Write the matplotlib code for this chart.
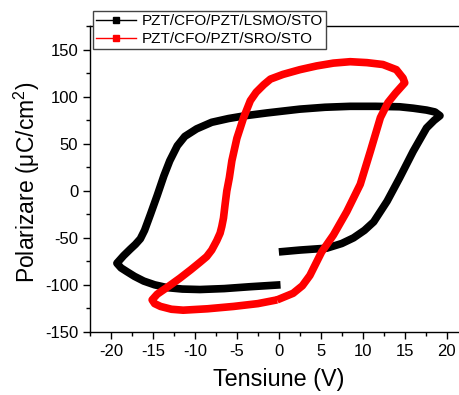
import matplotlib
matplotlib.use("Agg")
import matplotlib.pyplot as plt
from matplotlib.lines import Line2D
from matplotlib.ticker import MultipleLocator

plt.rcParams['font.family'] = ['Liberation Sans', 'DejaVu Sans']
plt.rcParams['mathtext.fontset'] = 'custom'
plt.rcParams['mathtext.rm'] = 'Liberation Sans'
plt.rcParams['axes.unicode_minus'] = False

# --- data ---
lsmo_label = 'PZT/CFO/PZT/LSMO/STO'
lsmo_v = [0.0, 2.5, 5.7, 7.5, 8.9, 10.2, 11.3, 12.9, 14.4, 16.0, 17.6,
          18.5, 19.2, 18.6, 17.6, 16.0, 14.4, 11.5, 8.5, 5.5, 2.5, -1.4,
          -4.0, -6.0, -8.0, -9.8, -11.2, -12.1, -13.0, -13.7, -14.5, -15.3,
          -16.0, -16.5, -17.1, -17.7, -18.5, -19.3, -18.8, -18.1, -17.2,
          -16.1, -14.8, -13.3, -11.5, -9.4, -6.5, -3.4, 0.2]
lsmo_p = [-65, -63, -61, -56, -50, -42, -33, -11, 14, 42, 67,
          75, 80, 84, 86, 88, 89.5, 90, 90, 89, 87, 83,
          80, 77, 73, 66, 58, 48, 32, 16, -5, -25,
          -42, -51, -57, -62, -69, -77, -82, -86, -91,
          -96, -100, -103, -104.5, -105, -104, -102, -100]

sro_label = 'PZT/CFO/PZT/SRO/STO'
sro_v = [-0.2, 1.7, 2.8, 3.7, 5.1, 6.5, 8.1, 9.7, 10.9, 12.1, 13.0,
         13.9, 14.6, 15.0, 14.8, 14.0, 12.4, 10.5, 8.5, 6.5, 4.5, 2.5,
         0.5, -1.0, -1.8, -2.7, -3.4, -4.2, -5.0, -5.6, -5.9, -6.2, -6.4,
         -6.6, -6.8, -7.0, -7.4, -8.0, -8.6, -9.4, -10.5, -11.8, -13.2,
         -14.5, -15.1, -14.8, -14.1, -12.8, -11.4, -8.5, -5.4, -2.5, -0.2]
sro_p = [-116, -109, -101, -90, -65, -47, -22, 7, 42, 78, 94,
         104, 111, 115, 120, 129, 134.5, 136.5, 137.5, 136, 133, 129,
         124, 119, 113, 105, 96, 78, 56, 32, 14, 0, -14,
         -29, -38, -45, -53, -63, -70, -76, -84, -93, -102,
         -110, -116, -120, -123, -126, -127, -125.5, -123, -120, -116]

fig = plt.figure(figsize=(4.6, 3.95), dpi=100)
ax = fig.add_axes([0.1957, 0.16, 0.821, 0.773])

ax.plot(lsmo_v, lsmo_p, color='black', lw=5.5,
        solid_joinstyle='round', solid_capstyle='butt')
ax.plot(sro_v, sro_p, color='red', lw=5.5,
        solid_joinstyle='round', solid_capstyle='butt')

ax.set_xlim(-22.5, 22.5)
ax.set_ylim(-150, 175)
ax.xaxis.set_major_locator(MultipleLocator(5))
ax.xaxis.set_minor_locator(MultipleLocator(2.5))
ax.yaxis.set_major_locator(MultipleLocator(50))
ax.yaxis.set_minor_locator(MultipleLocator(25))
ax.tick_params(which='both', direction='out', top=False, right=False,
               labelsize=12, width=1)
ax.tick_params(which='major', length=5)
ax.tick_params(which='minor', length=3)
for s in ax.spines.values():
    s.set_linewidth(1)

ax.set_xlabel('Tensiune (V)', fontsize=16.8, labelpad=7)
ax.set_ylabel('Polarizare (μC/cm$^2$)', fontsize=16.5)
ax.yaxis.set_label_coords(-0.128, 0.49)

handles = [Line2D([], [], color='black', lw=1, marker='s', ms=5),
           Line2D([], [], color='red', lw=1, marker='s', ms=5)]
leg = ax.legend(handles, [lsmo_label, sro_label], loc='upper left',
                bbox_to_anchor=(93 / 460, 1 - 11 / 395),
                bbox_transform=fig.transFigure, borderaxespad=0,
                fontsize=11, fancybox=False, framealpha=1,
                edgecolor='#444444', handlelength=2.6, handletextpad=0.4,
                labelspacing=0.25, borderpad=0.2)
leg.get_frame().set_linewidth(1)

fig.savefig('out.png', dpi=100)
